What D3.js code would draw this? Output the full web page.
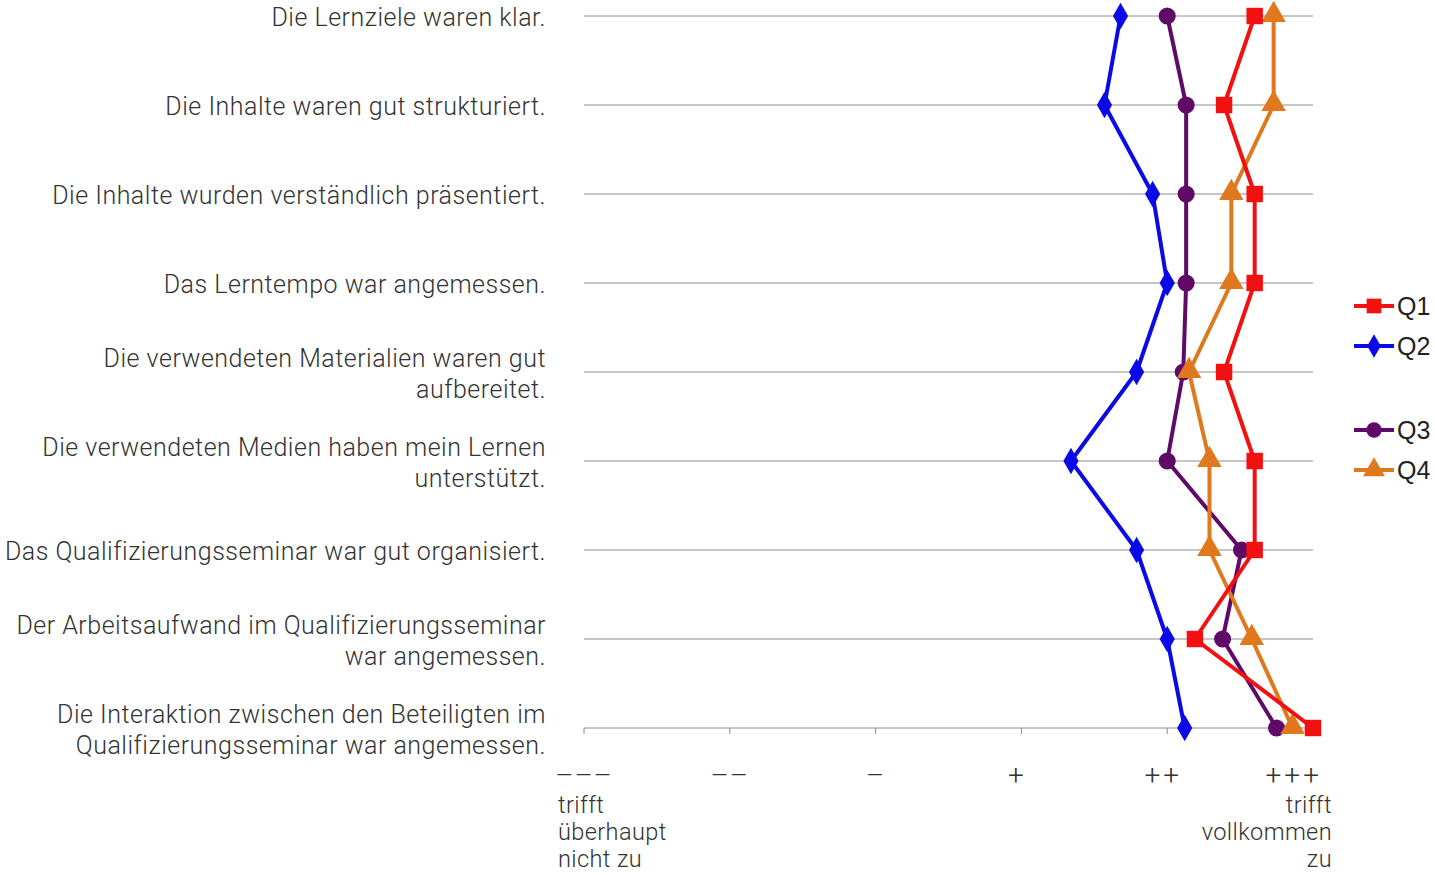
<!DOCTYPE html>
<html>
<meta charset="utf-8">
<title>Qualifizierungsseminar – Bewertung</title>
<style>
body { margin: 0; background: #fff; }
text { font-family: Roboto, "Open Sans", sans-serif; font-weight: 300; fill: #333; }
.legend text { font-family: "Liberation Sans", Arial, sans-serif; font-weight: 400; fill: #222; }
</style>
<body>
<svg id="chart" width="1435" height="875"></svg>
<script src="https://cdn.jsdelivr.net/npm/d3@7"></script>
<script>
// items (line breaks as in the original)
var items = [
  "Die Lernziele waren klar.",
  "Die Inhalte waren gut strukturiert.",
  "Die Inhalte wurden verständlich präsentiert.",
  "Das Lerntempo war angemessen.",
  "Die verwendeten Materialien waren gut\naufbereitet.",
  "Die verwendeten Medien haben mein Lernen\nunterstützt.",
  "Das Qualifizierungsseminar war gut organisiert.",
  "Der Arbeitsaufwand im Qualifizierungsseminar\nwar angemessen.",
  "Die Interaktion zwischen den Beteiligten im\nQualifizierungsseminar war angemessen."
];

// scale 1 = "---" ... 6 = "+++"
var scaleValues = [1, 2, 3, 4, 5, 6];
var scaleLabels = ["–––", "––", "–", "+", "++", "+++"];
var lowText = ["trifft", "überhaupt", "nicht zu"];
var highText = ["trifft", "vollkommen", "zu"];

var seriesNames = ["Q1", "Q2", "Q3", "Q4"];
var q1 = [5.60, 5.39, 5.60, 5.60, 5.39, 5.60, 5.60, 5.19, 6.00];
var q2 = [4.68, 4.57, 4.90, 5.00, 4.79, 4.34, 4.79, 5.00, 5.12];
var q3 = [5.00, 5.13, 5.13, 5.13, 5.11, 5.00, 5.51, 5.38, 5.75];
var q4 = [5.73, 5.73, 5.44, 5.44, 5.15, 5.29, 5.29, 5.58, 5.86];

var colors = {Q1: "#f21010", Q2: "#0a0ae6", Q3: "#5e0a66", Q4: "#e0781e"};
var shapes = {Q1: d3.symbolSquare, Q2: d3.symbolDiamond, Q3: d3.symbolCircle, Q4: d3.symbolTriangle};
var sizes = {Q1: 270, Q2: 200, Q3: 230, Q4: 260};

var series = [
  {name: "Q1", values: q1},
  {name: "Q2", values: q2},
  {name: "Q3", values: q3},
  {name: "Q4", values: q4}
];

var svg = d3.select("#chart");

var x = d3.scaleLinear().domain([1, 6]).range([584, 1313]);
var y = d3.scalePoint().domain(d3.range(items.length)).range([16, 728]);

// grid lines
svg.append("g").selectAll("line")
  .data(d3.range(items.length))
  .join("line")
  .attr("x1", x(1)).attr("x2", x(6))
  .attr("y1", d => y(d)).attr("y2", d => y(d))
  .attr("stroke", "#8c8c8c").attr("stroke-width", 1);

// bottom ticks
svg.append("g").selectAll("line")
  .data(scaleValues.slice(0, 5))
  .join("line")
  .attr("x1", d => x(d)).attr("x2", d => x(d))
  .attr("y1", y(items.length - 1)).attr("y2", y(items.length - 1) + 6)
  .attr("stroke", "#8c8c8c");

// tick labels
svg.append("g").selectAll("text")
  .data(scaleValues)
  .join("text")
  .attr("x", (d, i) => i == scaleValues.length - 1 ? x(d) + 9 : x(d) + (d < 4 ? 0 : -4))
  .attr("y", 785)
  .attr("text-anchor", (d, i) => i == scaleValues.length - 1 ? "end" : "middle")
  .style("font-size", "28px")
  .style("letter-spacing", (d, i) => scaleLabels[i][0] == "+" ? "3px" : "1px")
  .text((d, i) => scaleLabels[i]);

svg.append("g").selectAll("text")
  .data(lowText).join("text")
  .attr("x", x(1) - 26).attr("y", (d, i) => 813 + i * 27)
  .style("font-size", "23.5px")
  .style("letter-spacing", "0.4px")
  .text(d => d);

svg.append("g").selectAll("text")
  .data(highText).join("text")
  .attr("x", x(6) + 19).attr("y", (d, i) => 813 + i * 27)
  .attr("text-anchor", "end")
  .style("font-size", "23.5px")
  .style("letter-spacing", "0.4px")
  .text(d => d);

// item labels
var lab = svg.append("g").selectAll("text")
  .data(items).join("text")
  .attr("text-anchor", "end")
  .style("font-size", "25px")
  .style("letter-spacing", "0.5px");
lab.each(function(d, i) {
  var lines = d.split("\n");
  var t = d3.select(this);
  var y0 = y(i) + 10 - (lines.length - 1) * 15.5;
  lines.forEach(function(l, k) {
    t.append("tspan").attr("x", 546).attr("y", y0 + k * 31).text(l);
  });
});

// lines + markers
var line = d3.line().x(d => x(d)).y((d, i) => y(i));
var drawOrder = ["Q3", "Q2", "Q4", "Q1"];
drawOrder.forEach(function(name) {
  var s = series.find(d => d.name == name);
  var g = svg.append("g");
  g.append("path")
    .attr("d", line(s.values))
    .attr("fill", "none")
    .attr("stroke", colors[name])
    .attr("stroke-width", 4)
    .attr("stroke-linejoin", "round");
  g.selectAll("path.m")
    .data(s.values).join("path")
    .attr("class", "m")
    .attr("d", d3.symbol().type(shapes[name]).size(sizes[name]))
    .attr("transform", (d, i) => "translate(" + x(d) + "," + (y(i) + (name == "Q4" ? -1 : 0)) + ")")
    .attr("fill", colors[name]);
});

// legend
var legend = svg.append("g").attr("class", "legend");
seriesNames.forEach(function(name, i) {
  var ly = 306 + i * 40 + (i >= 2 ? 44 : 0);
  var g = legend.append("g").attr("transform", "translate(1354," + ly + ")");
  g.append("line").attr("x1", 0).attr("x2", 40).attr("y1", 0).attr("y2", 0)
    .attr("stroke", colors[name]).attr("stroke-width", 4);
  g.append("path")
    .attr("d", d3.symbol().type(shapes[name]).size(sizes[name] * 0.8))
    .attr("transform", "translate(20,0)")
    .attr("fill", colors[name]);
  g.append("text").attr("x", 43).attr("y", 9)
    .style("font-size", "25px")
    .text(name);
});
</script>
</body>
</html>
